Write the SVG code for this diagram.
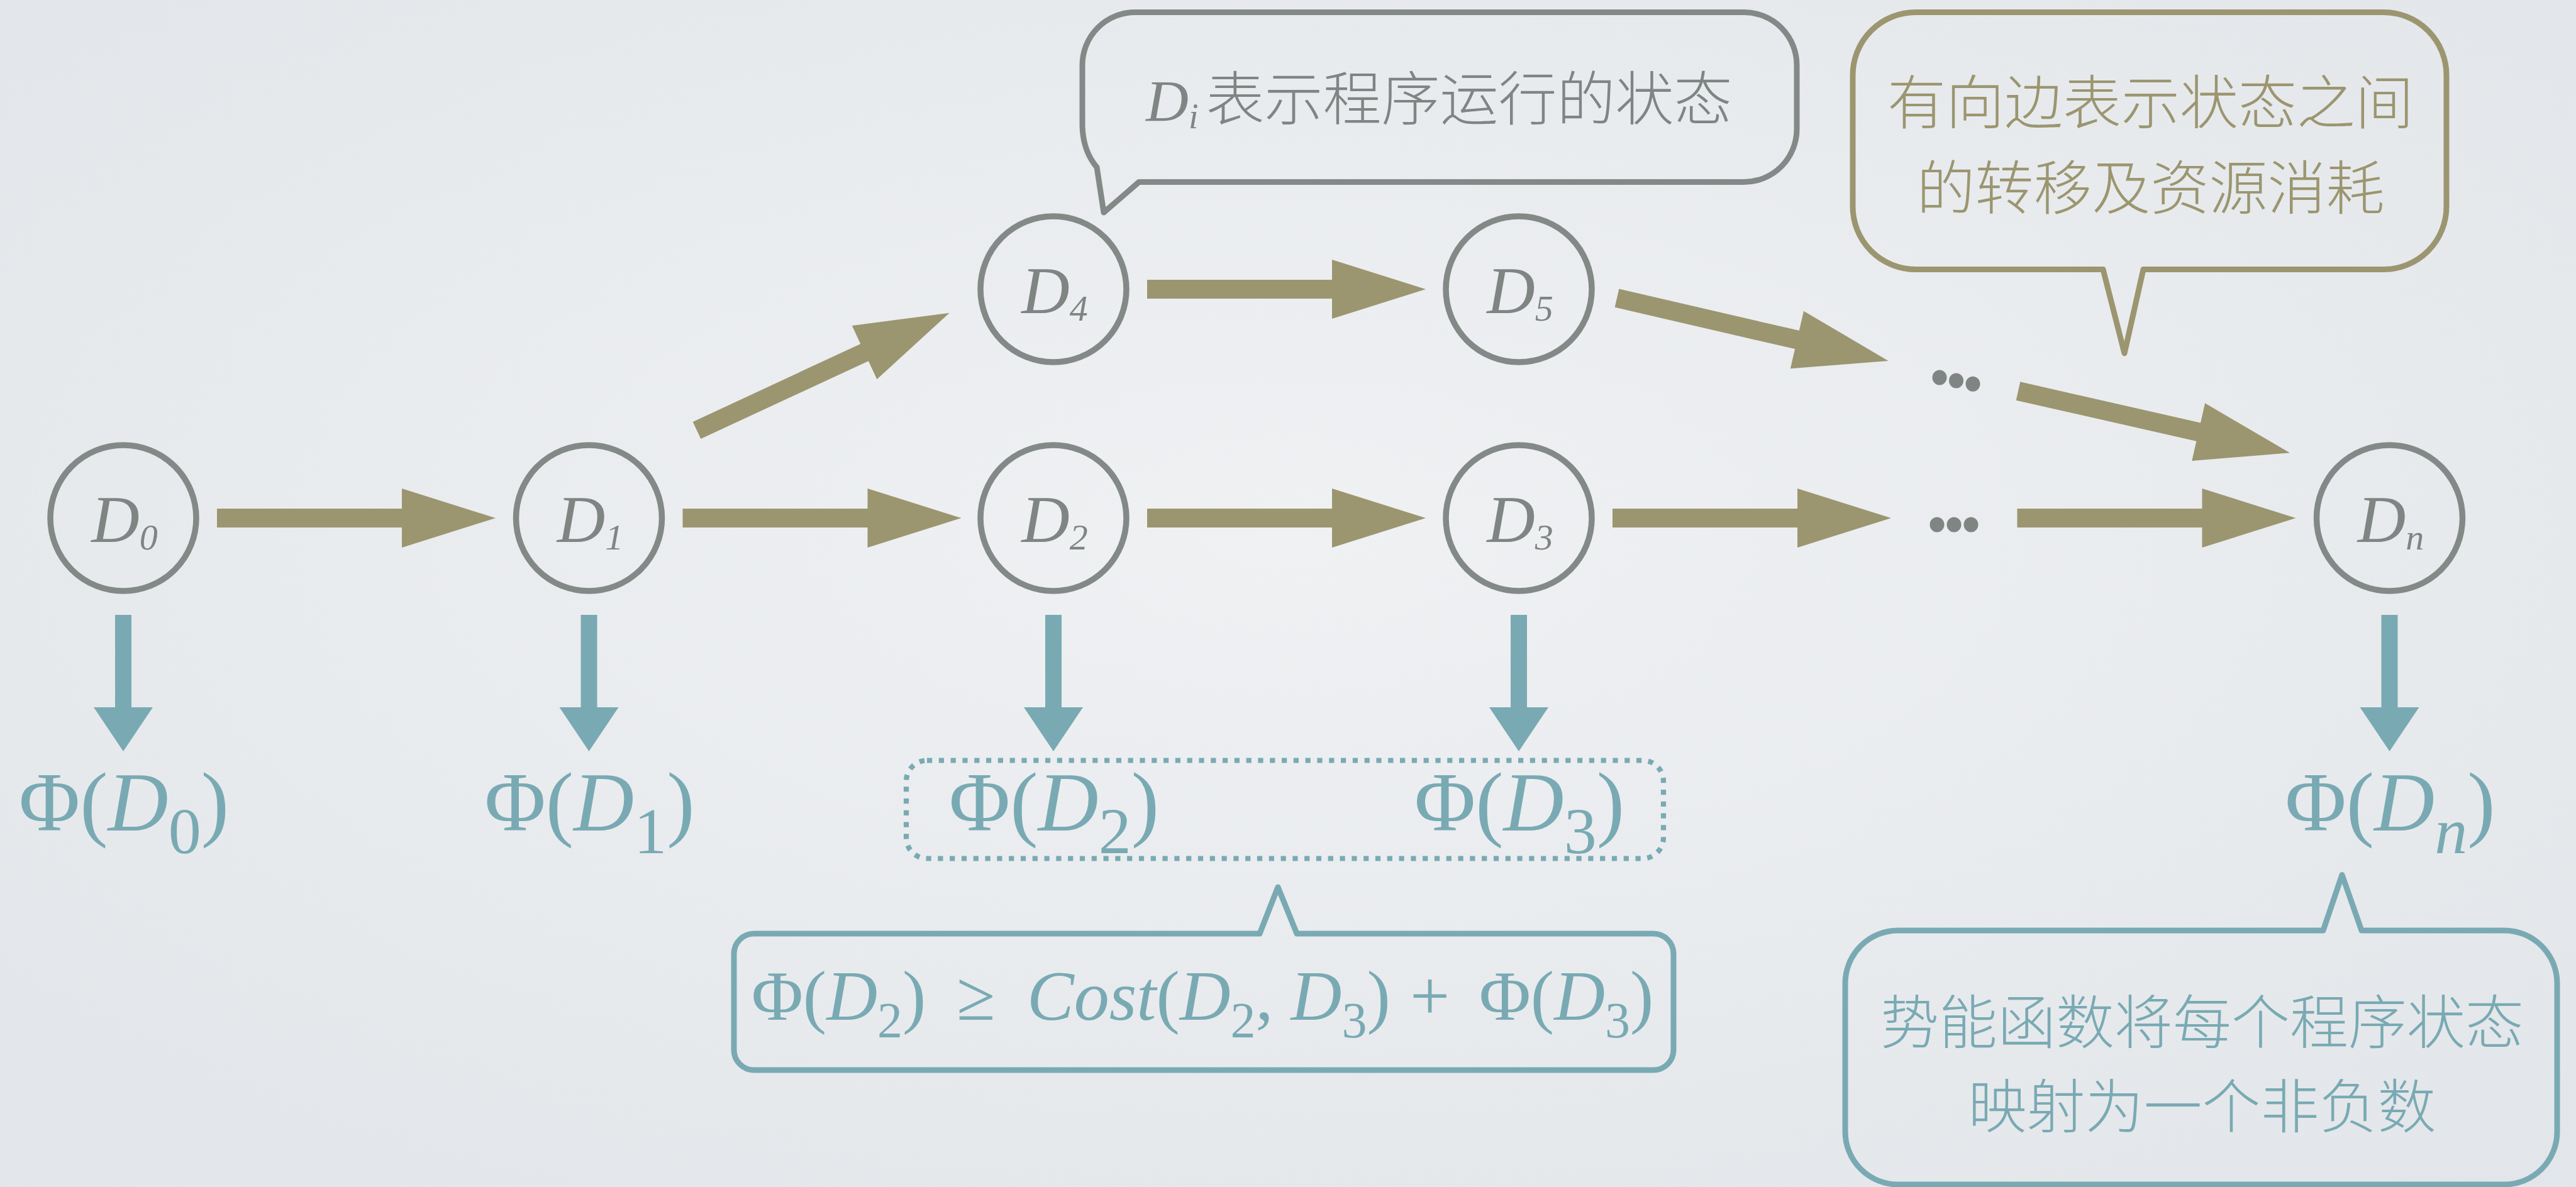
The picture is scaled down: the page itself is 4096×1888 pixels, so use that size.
<svg xmlns="http://www.w3.org/2000/svg" width="4096" height="1888" viewBox="0 0 4096 1888">
  <defs>
    <radialGradient id="bg" cx="50%" cy="45%" r="75%">
      <stop offset="0" stop-color="#eff1f3"/>
      <stop offset="1" stop-color="#e2e5e9"/>
    </radialGradient>
    <!-- block arrow pointing along +x, starting at the origin -->
    <path id="olive-arrow" d="M0,-15 H294 V-47 L443,0 L294,47 V15 H0 Z"/>
    <!-- downward arrow below a node, origin at the node centre -->
    <path id="teal-arrow" d="M-13,154 V301 H-47 L0,371 L47,301 H13 V154 Z"/>
  </defs>
  <style>
    .node circle { fill: none; stroke: #838987; stroke-width: 9.5; }
    .nl { font-family: "Liberation Serif", "DejaVu Serif", serif; font-style: italic; fill: #7f8583; font-size: 106px; text-anchor: middle; }
    .nl .sub { font-size: 58px; }
    .phi { font-family: "Liberation Serif", "DejaVu Serif", serif; fill: #79aab3; font-size: 133px; text-anchor: middle; }
    .it { font-style: italic; }
    .phi .sub { font-size: 104px; }
    .cjk { font-family: "Noto Sans CJK SC", sans-serif; font-size: 93px; font-weight: 300; text-anchor: middle; }
    .olive { fill: #9b9670; }
    .teal { fill: #79aab3; }
    .bubble { fill: none; stroke-width: 9; stroke-linejoin: round; }
    .dots { fill: #7f8583; }
  </style>

  <rect x="0" y="0" width="4096" height="1888" fill="url(#bg)"/>

  <!-- state-transition edges -->
  <g id="connectors">
    <g class="olive">
      <use href="#olive-arrow" transform="translate(345,824)"/>
      <use href="#olive-arrow" transform="translate(1085.5,824)"/>
      <use href="#olive-arrow" transform="translate(1824,824)"/>
      <use href="#olive-arrow" transform="translate(2564,824)"/>
      <use href="#olive-arrow" transform="translate(3207.5,824)"/>
      <use href="#olive-arrow" transform="translate(1824,460)"/>
      <use href="#olive-arrow" transform="translate(1108,684.5) rotate(-24.94)"/>
      <use href="#olive-arrow" transform="translate(2571,474.2) rotate(13.03)"/>
      <use href="#olive-arrow" transform="translate(3209,622) rotate(12.8)"/>
    </g>
    <g class="teal">
      <use href="#teal-arrow" transform="translate(196,824)"/>
      <use href="#teal-arrow" transform="translate(936.5,824)"/>
      <use href="#teal-arrow" transform="translate(1675,824)"/>
      <use href="#teal-arrow" transform="translate(2415,824)"/>
      <use href="#teal-arrow" transform="translate(3799.5,824)"/>
    </g>
  </g>

  <!-- state nodes -->
  <g id="node-d0" class="node">
    <circle cx="196" cy="824" r="116"/>
    <text class="nl" x="198" y="862">D<tspan class="sub" dy="12">0</tspan></text>
  </g>
  <g id="node-d1" class="node">
    <circle cx="936.5" cy="824" r="116"/>
    <text class="nl" x="938.5" y="862">D<tspan class="sub" dy="12">1</tspan></text>
  </g>
  <g id="node-d2" class="node">
    <circle cx="1675" cy="824" r="116"/>
    <text class="nl" x="1677" y="862">D<tspan class="sub" dy="12">2</tspan></text>
  </g>
  <g id="node-d3" class="node">
    <circle cx="2415" cy="824" r="116"/>
    <text class="nl" x="2417" y="862">D<tspan class="sub" dy="12">3</tspan></text>
  </g>
  <g id="node-d4" class="node">
    <circle cx="1675" cy="460" r="116"/>
    <text class="nl" x="1677" y="498">D<tspan class="sub" dy="12">4</tspan></text>
  </g>
  <g id="node-d5" class="node">
    <circle cx="2415" cy="460" r="116"/>
    <text class="nl" x="2417" y="498">D<tspan class="sub" dy="12">5</tspan></text>
  </g>
  <g id="node-dn" class="node">
    <circle cx="3799.5" cy="824" r="116"/>
    <text class="nl" x="3801.5" y="862">D<tspan class="sub" dy="12">n</tspan></text>
  </g>

  <!-- elided states -->
  <g id="ellipsis-top" class="dots">
    <ellipse cx="3084" cy="600.6" rx="11.5" ry="12"/>
    <ellipse cx="3110.5" cy="605.5" rx="11.5" ry="12"/>
    <ellipse cx="3137" cy="610.8" rx="11.5" ry="12"/>
  </g>
  <g id="ellipsis-bottom" class="dots">
    <ellipse cx="3080" cy="834.6" rx="11.5" ry="12"/>
    <ellipse cx="3107" cy="834.6" rx="11.5" ry="12"/>
    <ellipse cx="3134" cy="834.6" rx="11.5" ry="12"/>
  </g>

  <!-- potential values -->
  <g id="phi-d0"><text class="phi" x="197" y="1320.6">Φ(<tspan class="it">D</tspan><tspan class="sub" dy="36">0</tspan><tspan dy="-36">)</tspan></text></g>
  <g id="phi-d1"><text class="phi" x="937.5" y="1320.6">Φ(<tspan class="it">D</tspan><tspan class="sub" dy="36">1</tspan><tspan dy="-36">)</tspan></text></g>
  <g id="phi-d2"><text class="phi" x="1676" y="1320.6">Φ(<tspan class="it">D</tspan><tspan class="sub" dy="36">2</tspan><tspan dy="-36">)</tspan></text></g>
  <g id="phi-d3"><text class="phi" x="2416" y="1320.6">Φ(<tspan class="it">D</tspan><tspan class="sub" dy="36">3</tspan><tspan dy="-36">)</tspan></text></g>
  <g id="phi-dn"><text class="phi" x="3800.5" y="1320.6">Φ(<tspan class="it">D</tspan><tspan class="sub it" dy="36" font-size="114">n</tspan><tspan dy="-36">)</tspan></text></g>

  <!-- grouping of the two compared potentials -->
  <g id="phi-pair">
    <rect x="1441" y="1209.5" width="1204" height="156" rx="33" fill="none" stroke="#79aab3" stroke-width="8.2" stroke-dasharray="8.2 10.6"/>
  </g>

  <!-- callouts -->
  <g id="callout-state">
    <path class="bubble" stroke="#838987" d="M1805,19.5 H2773 A84,84 0 0 1 2857,103.5 V205.5 A84,84 0 0 1 2773,289.5 H1811 L1755,338 L1744,266 Q1722,240 1721,200 V103.5 A84,84 0 0 1 1805,19.5 Z"/>
    <text x="1822" y="191.5" font-family="Liberation Serif, DejaVu Serif, serif" font-style="italic" font-size="94" fill="#7f8583">D<tspan font-size="56" dy="12">i</tspan></text>
    <text class="cjk" x="2336" y="191" fill="#7f8583">表示程序运行的状态</text>
  </g>

  <g id="callout-edges">
    <path class="bubble" stroke="#9b9670" d="M3046,19.5 H3790 A100,100 0 0 1 3890,119.5 V328.5 A100,100 0 0 1 3790,428.5 H3408 L3378,562 L3344,428.5 H3046 A100,100 0 0 1 2946,328.5 V119.5 A100,100 0 0 1 3046,19.5 Z"/>
    <text class="cjk" x="3419.5" y="197" fill="#9b9670">有向边表示状态之间</text>
    <text class="cjk" x="3419.5" y="333" fill="#9b9670">的转移及资源消耗</text>
  </g>

  <g id="callout-inequality">
    <path class="bubble" stroke="#79aab3" d="M1199,1485 H2003 L2032,1411 L2062,1485 H2629 A32,32 0 0 1 2661,1517 V1670 A32,32 0 0 1 2629,1702 H1199 A32,32 0 0 1 1167,1670 V1517 A32,32 0 0 1 1199,1485 Z"/>
    <text font-family="Liberation Serif, DejaVu Serif, serif" font-size="112" fill="#79aab3" y="1622"><tspan x="1195">Φ(</tspan><tspan class="it">D</tspan><tspan font-size="80" dy="28">2</tspan><tspan dy="-28">)</tspan><tspan x="1521">≥</tspan><tspan x="1633" class="it">Cost</tspan><tspan>(</tspan><tspan class="it">D</tspan><tspan font-size="80" dy="28">2</tspan><tspan dy="-28">, </tspan><tspan class="it">D</tspan><tspan font-size="80" dy="28">3</tspan><tspan dy="-28">)</tspan><tspan x="2242">+</tspan><tspan x="2352">Φ(</tspan><tspan class="it">D</tspan><tspan font-size="80" dy="28">3</tspan><tspan dy="-28">)</tspan></text>
  </g>

  <g id="callout-potential">
    <path class="bubble" stroke="#79aab3" d="M3018,1480 H3694 L3724,1391.5 L3755,1480 H3982 A84,84 0 0 1 4066,1564 V1800 A84,84 0 0 1 3982,1884 H3018 A84,84 0 0 1 2934,1800 V1564 A84,84 0 0 1 3018,1480 Z"/>
    <text class="cjk" x="3501.6" y="1660" fill="#79aab3">势能函数将每个程序状态</text>
    <text class="cjk" x="3501.6" y="1794" fill="#79aab3">映射为一个非负数</text>
  </g>
</svg>
